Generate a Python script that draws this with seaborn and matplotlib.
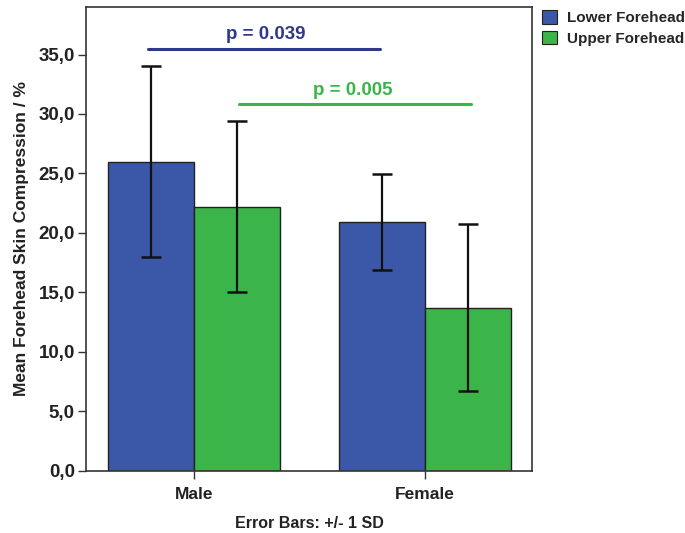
import matplotlib
matplotlib.use("Agg")
import matplotlib.pyplot as plt
import seaborn as sns
import pandas as pd
import numpy as np
from matplotlib.patches import Patch
from matplotlib.ticker import FuncFormatter

sns.set_theme(style="white")
plt.rcParams['font.family'] = ['Liberation Sans', 'DejaVu Sans']
plt.rcParams['font.weight'] = 'bold'

genders = ["Male", "Female"]
regions = ["Lower Forehead", "Upper Forehead"]
lower_mean = [26.0, 20.9]
upper_mean = [22.2, 13.7]
lower_sd = [8.0, 4.05]
upper_sd = [7.2, 7.0]
yticks = [0, 5, 10, 15, 20, 25, 30, 35]
colors = ["#3b57a8", "#3bb44a"]

df = pd.DataFrame({
    "Gender": genders * 2,
    "Region": [regions[0]] * 2 + [regions[1]] * 2,
    "Mean": lower_mean + upper_mean,
    "SD": lower_sd + upper_sd,
})

fig = plt.figure(figsize=(6.85, 5.33), dpi=100)
ax = fig.add_axes([86/685, 1 - 470.5/533, (532-86)/685, (470.5-7)/533])

sns.barplot(data=df, x="Gender", y="Mean", hue="Region", order=genders,
            hue_order=regions, palette=colors, width=0.745, errorbar=None,
            edgecolor="#222222", linewidth=1.0, saturation=1, ax=ax, legend=False)

# error bars from bar positions
for container, reg in zip(ax.containers, regions):
    sub = df[df.Region == reg].set_index("Gender").loc[genders]
    for bar, m, s in zip(container, sub["Mean"], sub["SD"]):
        xc = bar.get_x() + bar.get_width() / 2
        ax.errorbar(xc, m, yerr=s, color="#111111", capsize=7.5, capthick=1.8,
                    elinewidth=1.6, zorder=5)

ax.set_xlim(-0.468, 1.463)
ax.set_ylim(0, 39.0)
ax.set_yticks(yticks)
ax.yaxis.set_major_formatter(FuncFormatter(lambda v, p: f"{v:.1f}".replace(".", ",")))
ax.tick_params(axis="both", which="both", length=6, width=1, color="#333333",
               pad=2, left=True, bottom=True)
ax.tick_params(axis="y", labelsize=13.5)
ax.tick_params(axis="x", labelsize=12.5, pad=6)
for lab in ax.get_xticklabels() + ax.get_yticklabels():
    lab.set_fontweight("bold")
    lab.set_color("#222222")
ax.set_ylabel("Mean Forehead Skin Compression / %", fontsize=12.5, fontweight="bold",
              color="#222222", labelpad=7)
ax.set_xlabel("Error Bars: +/- 1 SD", fontsize=11.5, fontweight="bold",
              color="#222222", labelpad=10)
for sp in ax.spines.values():
    sp.set_color("#333333")
    sp.set_linewidth(1.2)

# significance lines
ax.plot([-0.2, 0.805], [35.5, 35.5], color="#2e3a86", lw=2.2, clip_on=False)
ax.text(0.31, 36.0, "p = 0.039", color="#2e3a86", ha="center", va="bottom",
        fontsize=13.5, fontweight="bold")
ax.plot([0.195, 1.2], [30.8, 30.8], color="#3bb44a", lw=2.2, clip_on=False)
ax.text(0.685, 31.3, "p = 0.005", color="#3bb44a", ha="center", va="bottom",
        fontsize=13.5, fontweight="bold")

handles = [Patch(facecolor=c, edgecolor="#222222", linewidth=0.8) for c in colors]
fig.legend(handles, regions, loc="upper left", bbox_to_anchor=(536/685, 1 - 4/533),
           frameon=False, prop={"weight": "bold", "size": 11},
           handlelength=1.0, handleheight=1.0, handletextpad=0.6, labelspacing=0.35,
           borderaxespad=0)

fig.savefig("out.png", dpi=100)
